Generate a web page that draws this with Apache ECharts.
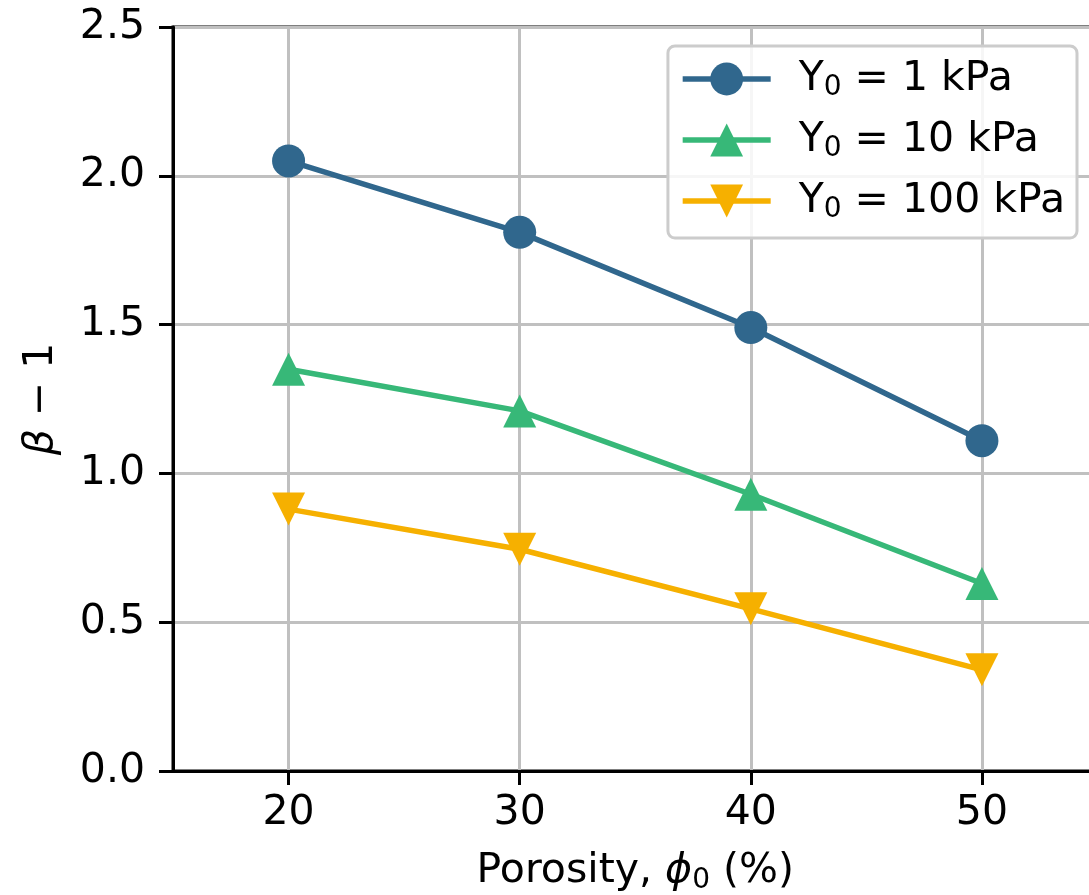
<!DOCTYPE html>
<html>
<head>
<meta charset="utf-8">
<script src="https://cdn.jsdelivr.net/npm/echarts@6/dist/echarts.min.js"></script>
<style>
html,body{margin:0;padding:0;background:#fff;}
#chart{width:1089px;height:895px;}
</style>
</head>
<body>
<div id="chart"></div>
<script>
// ---- data ----
const porosity = [20, 30, 40, 50];
const seriesNames = ['Y0 = 1 kPa', 'Y0 = 10 kPa', 'Y0 = 100 kPa'];
const legendSuffix = ['1 kPa', '10 kPa', '100 kPa'];
const beta1kPa = [2.05, 1.81, 1.49, 1.11];
const beta10kPa = [1.35, 1.21, 0.93, 0.63];
const beta100kPa = [0.88, 0.745, 0.545, 0.34];
const xTicks = [20, 30, 40, 50];

const FONT = 'DejaVu Sans';
const colors = ['#30678d', '#37b878', '#f6b000'];

function pairs(ys) { return porosity.map((x, i) => [x, ys[i]]); }

const chart = echarts.init(document.getElementById('chart'), null, {renderer: 'canvas'});
const lineW = 5.5;
const symSize = 33;

const subStyle = { fontFamily: FONT, fontSize: 28, color: '#000', lineHeight: 28, padding: [18, 0, 0, 0] };
const mainStyle = { fontFamily: FONT, fontSize: 41, color: '#000', lineHeight: 41 };
const italStyle = { fontFamily: FONT, fontSize: 41, color: '#000', lineHeight: 41, fontStyle: 'italic' };

const option = {
  animation: false,
  backgroundColor: '#ffffff',
  grid: {
    left: 173, top: 27, right: -8.5, bottom: 124,
    containLabel: false, outerBoundsMode: 'none',
    show: true, borderColor: '#000', borderWidth: 3, backgroundColor: 'transparent'
  },
  xAxis: {
    type: 'value', min: 15, max: 55,
    name: '{m|Porosity, }{i|ϕ}{sub|0}{m| (%)}',
    nameLocation: 'middle', nameGap: 80,
    nameTextStyle: {
      fontFamily: FONT, fontSize: 41, color: '#000',
      rich: { m: mainStyle, i: italStyle, sub: subStyle }
    },
    axisLine: { show: true, onZero: false, lineStyle: { color: '#000', width: 3 } },
    axisTick: { show: true, length: 14, lineStyle: { color: '#000', width: 3 }, customValues: xTicks },
    axisLabel: { fontFamily: FONT, fontSize: 41, color: '#000', margin: 22, customValues: xTicks },
    splitLine: { show: true, lineStyle: { color: '#c0c0c0', width: 3 } }
  },
  yAxis: {
    type: 'value', min: 0, max: 2.5, interval: 0.5,
    name: '{i|β} − 1',
    nameLocation: 'middle', nameGap: 111, nameRotate: 90,
    nameTextStyle: {
      fontFamily: FONT, fontSize: 41, color: '#000',
      rich: { i: italStyle }
    },
    axisLine: { show: true, lineStyle: { color: '#000', width: 3 } },
    axisTick: { show: true, length: 14, lineStyle: { color: '#000', width: 3 } },
    axisLabel: { fontFamily: FONT, fontSize: 41, color: '#000', margin: 28,
      formatter: v => v.toFixed(1) },
    splitLine: { show: true, lineStyle: { color: '#c0c0c0', width: 3 } }
  },
  legend: {
    right: 12, top: 46, orient: 'vertical',
    data: seriesNames,
    formatter: name => '{m|Y}{sub|0}{m| = ' + legendSuffix[seriesNames.indexOf(name)] + '}',
    itemWidth: 88, itemHeight: 41, itemGap: 15,
    padding: [10, 12, 14, 12],
    backgroundColor: 'rgba(255,255,255,0.85)',
    borderColor: '#cccccc', borderWidth: 3, borderRadius: 7,
    lineStyle: { width: lineW },
    textStyle: { fontFamily: FONT, fontSize: 41, color: '#000', padding: [0, 0, 0, 23],
      rich: { m: mainStyle, sub: subStyle } }
  },
  series: [
    { name: seriesNames[0], type: 'line', data: pairs(beta1kPa), symbol: 'circle', symbolSize: symSize,
      lineStyle: { color: colors[0], width: lineW }, itemStyle: { color: colors[0] }, z: 3 },
    { name: seriesNames[1], type: 'line', data: pairs(beta10kPa), symbol: 'triangle', symbolSize: symSize,
      lineStyle: { color: colors[1], width: lineW }, itemStyle: { color: colors[1] }, z: 3 },
    { name: seriesNames[2], type: 'line', data: pairs(beta100kPa), symbol: 'triangle', symbolRotate: 180, symbolSize: symSize,
      lineStyle: { color: colors[2], width: lineW }, itemStyle: { color: colors[2] }, z: 3 }
  ]
};
chart.setOption(option);
</script>
</body>
</html>
